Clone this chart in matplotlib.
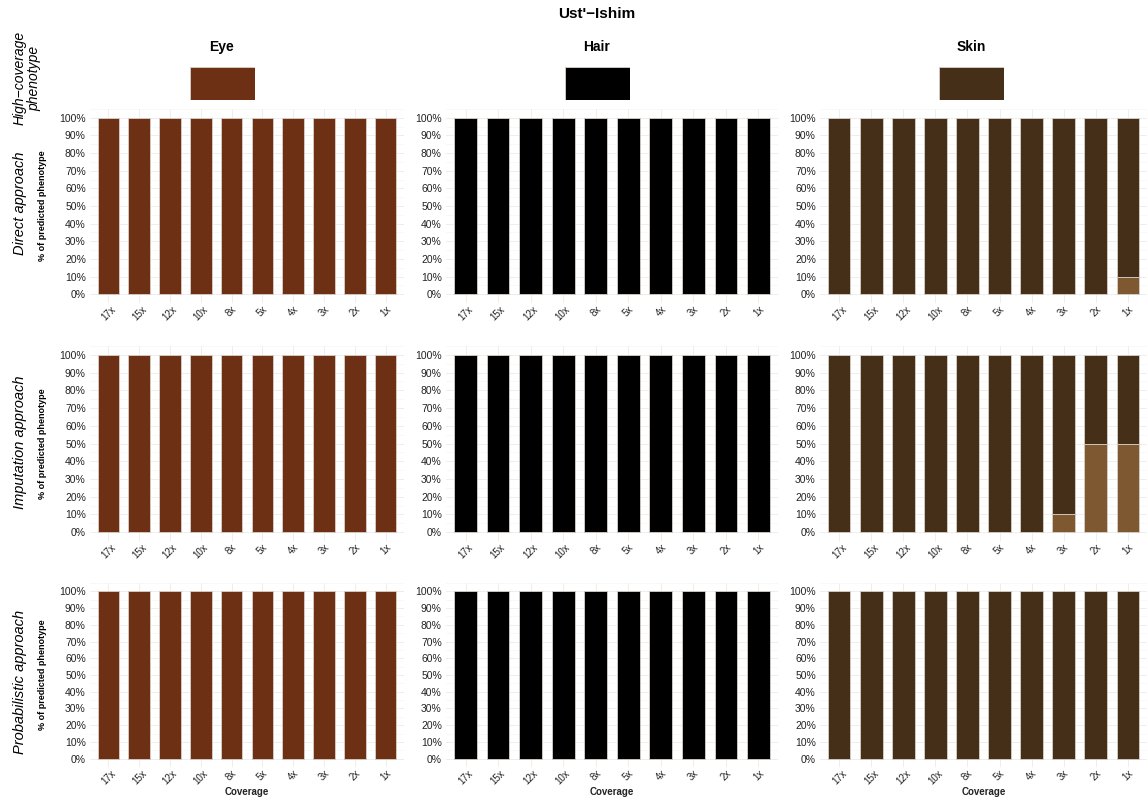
import matplotlib.pyplot as plt
from matplotlib.ticker import FixedLocator, FuncFormatter

plt.rcParams['font.family'] = ['Liberation Sans', 'DejaVu Sans']

coverage = ['17x', '15x', '12x', '10x', '8x', '5x', '4x', '3x', '2x', '1x']
traits = ['Eye', 'Hair', 'Skin']
approaches = ['Direct approach', 'Imputation approach', 'Probabilistic approach']

# colour of the high-coverage phenotype, and the other predicted shade
main_colors = {'Eye': '#6e3015', 'Hair': '#000000', 'Skin': '#452f18'}
other_colors = {'Eye': '#a0582e', 'Hair': '#555555', 'Skin': '#7e5830'}

# % of runs predicting the high-coverage phenotype
eye_direct = [100, 100, 100, 100, 100, 100, 100, 100, 100, 100]
hair_direct = [100, 100, 100, 100, 100, 100, 100, 100, 100, 100]
skin_direct = [100, 100, 100, 100, 100, 100, 100, 100, 100, 90]
eye_imput = [100, 100, 100, 100, 100, 100, 100, 100, 100, 100]
hair_imput = [100, 100, 100, 100, 100, 100, 100, 100, 100, 100]
skin_imput = [100, 100, 100, 100, 100, 100, 100, 90, 50, 50]
eye_prob = [100, 100, 100, 100, 100, 100, 100, 100, 100, 100]
hair_prob = [100, 100, 100, 100, 100, 100, 100, 100, 100, 100]
skin_prob = [100, 100, 100, 100, 100, 100, 100, 100, 100, 100]

values = [
    [eye_direct, hair_direct, skin_direct],
    [eye_imput, hair_imput, skin_imput],
    [eye_prob, hair_prob, skin_prob],
]

W, H = 1148, 800
fig = plt.figure(figsize=(W / 100, H / 100), dpi=100)


def px_axes(x0, y0, x1, y1):
    return fig.add_axes([x0 / W, 1 - y1 / H, (x1 - x0) / W, (y1 - y0) / H])


col_px = [(90, 404), (446, 778), (820, 1147)]
row_px = [(109, 303), (346, 541), (583, 767)]
header_cx = [222, 597, 971]
row_label_y = [203, 442, 682]

fig.text(597 / W, 1 - 14 / H, "Ust'\u2212Ishim", ha='center', va='center',
         fontsize=11, fontweight='bold')

fig.text(27 / W, 1 - 78 / H, 'High\u2212coverage\nphenotype', rotation=90,
         ha='center', va='center', fontsize=10, style='italic',
         linespacing=1.0)

for ci, trait in enumerate(traits):
    cx = header_cx[ci]
    fig.text(cx / W, 1 - 47 / H, trait, ha='center', va='center',
             fontsize=10, fontweight='bold')
    hax = px_axes(cx - 32.5, 67, cx + 32.5, 100)
    hax.bar([0], [1], width=1, color=main_colors[trait],
            edgecolor='#d9d0c8', linewidth=0.6)
    hax.set_xlim(-0.5, 0.5)
    hax.set_ylim(0, 1)
    hax.axis('off')

for ri, approach in enumerate(approaches):
    fig.text(20 / W, 1 - row_label_y[ri] / H, approach, rotation=90,
             ha='center', va='center', fontsize=10.5, style='italic')
    for ci, trait in enumerate(traits):
        x0, x1 = col_px[ci]
        y0, y1 = row_px[ri]
        ax = px_axes(x0, y0, x1, y1)
        main = values[ri][ci]
        other = [100 - v for v in main]
        xs = list(range(1, len(coverage) + 1))
        ax.bar(xs, other, width=0.7, color=other_colors[trait],
               edgecolor='#d9d0c8', linewidth=0.6, zorder=3)
        ax.bar(xs, main, bottom=other, width=0.7, color=main_colors[trait],
               edgecolor='#d9d0c8', linewidth=0.6, zorder=3)
        ax.set_xlim(0.4, 10.6)
        ax.set_ylim(-5, 105)
        ax.set_xticks(xs)
        ax.set_xticklabels(coverage, rotation=45, fontsize=7,
                           color='#222222')
        ax.yaxis.set_major_locator(FixedLocator(range(0, 101, 10)))
        ax.yaxis.set_minor_locator(FixedLocator(range(-5, 106, 10)))
        ax.yaxis.set_major_formatter(FuncFormatter(lambda v, p: f'{v:.0f}%'))
        ax.tick_params(axis='y', labelsize=7.5, labelcolor='#222222',
                       length=0, pad=3)
        ax.tick_params(axis='x', length=0, pad=1)
        ax.tick_params(which='minor', length=0)
        ax.grid(True, which='major', color='#ebebeb', linewidth=0.6, zorder=0)
        ax.grid(True, which='minor', axis='y', color='#f3f3f3',
                linewidth=0.4, zorder=0)
        ax.set_axisbelow(True)
        for s in ax.spines.values():
            s.set_visible(False)
        if ci == 0:
            ax.set_ylabel('% of predicted phenotype', fontsize=6.5,
                          fontweight='bold')
            ax.yaxis.set_label_coords(-43 / (x1 - x0), 0.5)
        if ri == 2:
            ax.set_xlabel('Coverage', fontsize=7, fontweight='bold',
                          color='#222222', labelpad=0)

fig.savefig('out.png', dpi=100, facecolor='white')
